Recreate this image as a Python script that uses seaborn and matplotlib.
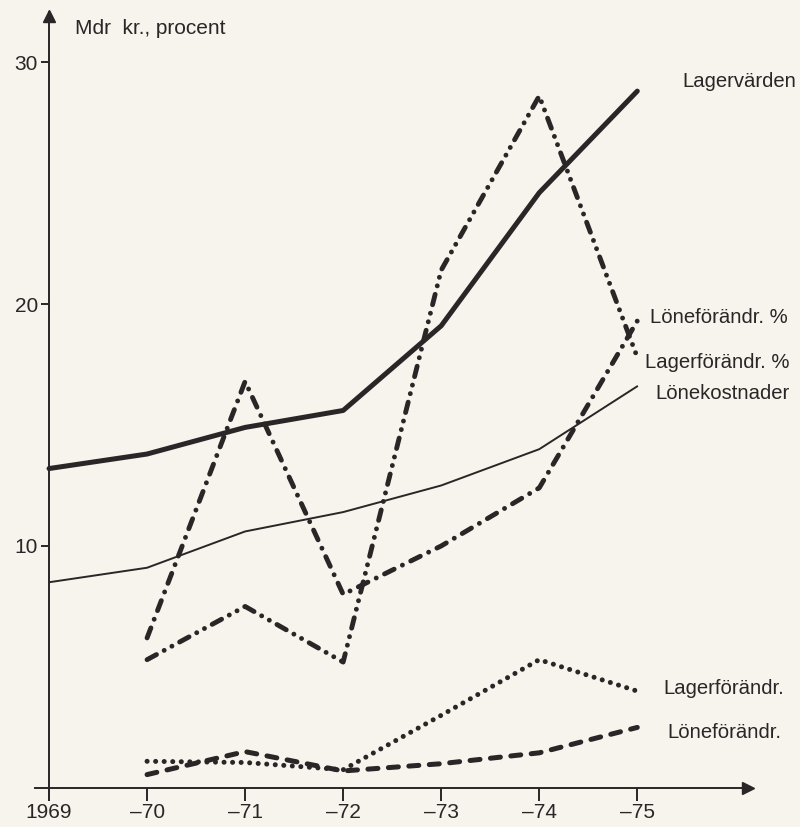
import numpy as np
import pandas as pd
import matplotlib.pyplot as plt
import seaborn as sns

# values (Mdr kr. / procent)
years_full = [1969, 1970, 1971, 1972, 1973, 1974, 1975]
years_short = [1970, 1971, 1972, 1973, 1974, 1975]

lagervarden = [13.2, 13.8, 14.9, 15.6, 19.1, 24.6, 28.8]
lonekostnader = [8.5, 9.1, 10.6, 11.4, 12.5, 14.0, 16.6]
lonef_pct = [6.2, 16.8, 8.0, 10.0, 12.4, 19.3]
lagerf_pct = [5.3, 7.5, 5.2, 21.4, 28.6, 17.8]
lagerf = [1.1, 1.05, 0.75, 3.0, 5.3, 4.0]
lonef = [0.55, 1.5, 0.7, 1.0, 1.45, 2.5]

xtick_labels = ["1969", "\u201370", "\u201371", "\u201372", "\u201373", "\u201374", "\u201375"]
ytick_vals = [10, 20, 30]

ink = "#2a2527"
bg = "#f6f4ec"

sns.set_theme(style="ticks")
plt.rcParams['font.family'] = ['Liberation Sans', 'DejaVu Sans']

fig = plt.figure(figsize=(8, 8.27), dpi=100, facecolor=bg)
ax = fig.add_axes([35 / 800, 27 / 827, 717 / 800, 788 / 827])
ax.set_facecolor(bg)

# name, x, y, linewidth, dash pattern (None = solid)
series = [
    ("Lagervärden", years_full, lagervarden, 3.6, None),
    ("Lönekostnader", years_full, lonekostnader, 1.4, None),
    ("Löneförändr. %", years_short, lonef_pct, 3.5, (2.2, 1.9, 0.01, 1.9)),
    ("Lagerförändr. %", years_short, lagerf_pct, 3.5, (2.2, 1.8, 0.01, 1.8, 0.01, 1.8)),
    ("Lagerförändr.", years_short, lagerf, 3.6, (0.01, 1.7)),
    ("Löneförändr.", years_short, lonef, 3.6, (2.0, 2.1)),
]

for name, xs, ys, lw, dash in series:
    df = pd.DataFrame({"year": xs, "value": ys})
    sns.lineplot(data=df, x="year", y="value", ax=ax, color=ink, linewidth=lw,
                 solid_capstyle="round", solid_joinstyle="round")
    line = ax.lines[-1]
    if dash is not None:
        line.set_dashes(dash)
        line.set_dash_capstyle("round")

# labels at the line ends
labels = [
    ("Lagervärden", 1975.46, 29.2),
    ("Löneförändr. %", 1975.13, 19.45),
    ("Lagerförändr. %", 1975.08, 17.6),
    ("Lönekostnader", 1975.18, 16.3),
    ("Lagerförändr.", 1975.27, 4.1),
    ("Löneförändr.", 1975.31, 2.27),
]
for txt, lx, ly in labels:
    ax.text(lx, ly, txt, fontsize=14.6, color=ink, va="center", ha="left")

ax.text(1969.27, 31.4, "Mdr  kr., procent", fontsize=15, color=ink, va="center", ha="left")

ax.set_xlim(1968.857, 1976.17)
ax.set_ylim(-0.5, 32.07)

ax.spines['left'].set_position(('data', 1969))
ax.spines['bottom'].set_position(('data', 0))
ax.spines['top'].set_visible(False)
ax.spines['right'].set_visible(False)
for s in ['left', 'bottom']:
    ax.spines[s].set_linewidth(1.4)
    ax.spines[s].set_color(ink)

# arrow heads on the axes
ax.plot(0.995, 0, ">", color=ink, ms=9, transform=ax.get_yaxis_transform(), clip_on=False)
ax.plot(1969, 0.995, "^", color=ink, ms=9, transform=ax.get_xaxis_transform(), clip_on=False)

ax.set_xticks(years_full, xtick_labels)
ax.set_yticks(ytick_vals, [str(v) for v in ytick_vals])
ax.tick_params(axis='x', direction='out', length=9, width=1.4, pad=2, labelsize=15, colors=ink)
ax.tick_params(axis='y', direction='out', length=6, width=1.4, pad=2, labelsize=15, colors=ink)
ax.set_xlabel("")
ax.set_ylabel("")

fig.savefig("out.png", dpi=100, facecolor=bg)
